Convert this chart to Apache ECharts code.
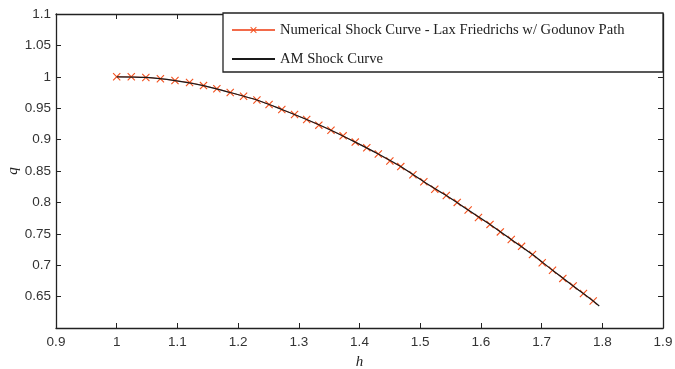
<!DOCTYPE html>
<html>
<head>
<meta charset="utf-8">
<script src="https://cdn.jsdelivr.net/npm/echarts@6/dist/echarts.min.js"></script>
<style>html,body{margin:0;padding:0;background:#fff;}#c{width:675px;height:369px;}</style>
</head>
<body>
<div id="c"></div>
<script>
const xTicks = [0.9, 1.0, 1.1, 1.2, 1.3, 1.4, 1.5, 1.6, 1.7, 1.8, 1.9];
const yTicks = [0.6, 0.65, 0.7, 0.75, 0.8, 0.85, 0.9, 0.95, 1.0, 1.05, 1.1];

const numH = [1.000, 1.024, 1.048, 1.072, 1.096, 1.120, 1.143, 1.165, 1.187, 1.209, 1.231, 1.251, 1.272, 1.293, 1.313, 1.333, 1.353, 1.373, 1.393, 1.412, 1.431, 1.450, 1.468, 1.488, 1.506, 1.524, 1.543, 1.561, 1.579, 1.596, 1.615, 1.632, 1.650, 1.667, 1.685, 1.701, 1.718, 1.735, 1.752, 1.769, 1.785];
const numQ = [1.000, 1.000, 0.999, 0.997, 0.994, 0.991, 0.986, 0.981, 0.975, 0.969, 0.963, 0.956, 0.948, 0.940, 0.932, 0.923, 0.915, 0.906, 0.896, 0.887, 0.877, 0.866, 0.857, 0.844, 0.833, 0.821, 0.811, 0.800, 0.788, 0.776, 0.765, 0.753, 0.741, 0.730, 0.717, 0.704, 0.692, 0.679, 0.667, 0.655, 0.643];

const amH = [1.000, 1.048, 1.096, 1.143, 1.187, 1.231, 1.272, 1.313, 1.353, 1.393, 1.431, 1.468, 1.506, 1.543, 1.579, 1.615, 1.650, 1.685, 1.718, 1.752, 1.785, 1.795];
const amQ = [1.000, 0.999, 0.994, 0.986, 0.975, 0.963, 0.948, 0.932, 0.915, 0.896, 0.877, 0.857, 0.833, 0.811, 0.788, 0.765, 0.741, 0.717, 0.692, 0.667, 0.643, 0.635];

const seriesNames = ['Numerical Shock Curve - Lax Friedrichs w/ Godunov Path', 'AM Shock Curve'];

const zip = (a, b) => a.map((v, i) => [v, b[i]]);
const crossPath = 'path://M0,1 L1,0 L5,4 L9,0 L10,1 L6,5 L10,9 L9,10 L5,6 L1,10 L0,9 L4,5 Z';
const axisCol = '#222';
const labelFont = {fontFamily: 'Liberation Sans', fontSize: 13.5, color: '#333'};

const chart = echarts.init(document.getElementById('c'), null, {renderer: 'canvas'});
chart.setOption({
  animation: false,
  backgroundColor: '#fff',
  grid: {left: 56, right: 12, top: 14, bottom: 41, containLabel: false, outerBoundsMode: 'none'},
  xAxis: [{
    type: 'value', min: xTicks[0], max: xTicks[xTicks.length - 1], interval: 0.1,
    position: 'bottom',
    axisLine: {show: true, lineStyle: {color: axisCol, width: 1.3}},
    axisTick: {show: true, inside: true, length: 5, lineStyle: {color: axisCol}},
    axisLabel: Object.assign({margin: 7, formatter: v => String(+v.toFixed(2))}, labelFont),
    splitLine: {show: false},
    name: 'h', nameLocation: 'middle', nameGap: 27, nameMoveOverlap: false,
    nameTextStyle: {fontFamily: 'Liberation Serif', fontStyle: 'italic', fontSize: 15, color: '#222'}
  }, {
    type: 'value', min: xTicks[0], max: xTicks[xTicks.length - 1], interval: 0.1,
    position: 'top',
    axisLine: {show: true, lineStyle: {color: axisCol, width: 1.3}},
    axisTick: {show: true, inside: true, length: 5, lineStyle: {color: axisCol}},
    axisLabel: {show: false}, splitLine: {show: false}
  }],
  yAxis: [{
    type: 'value', min: yTicks[0], max: yTicks[yTicks.length - 1], interval: 0.05,
    position: 'left',
    axisLine: {show: true, lineStyle: {color: axisCol, width: 1.3}},
    axisTick: {show: true, inside: true, length: 5, lineStyle: {color: axisCol}},
    axisLabel: Object.assign({margin: 5, showMinLabel: false, formatter: v => String(+v.toFixed(2))}, labelFont),
    splitLine: {show: false},
    name: 'q', nameLocation: 'middle', nameGap: 35, nameMoveOverlap: false,
    nameTextStyle: {fontFamily: 'Liberation Serif', fontStyle: 'italic', fontSize: 15, color: '#222'}
  }, {
    type: 'value', min: yTicks[0], max: yTicks[yTicks.length - 1], interval: 0.05,
    position: 'right',
    axisLine: {show: true, lineStyle: {color: axisCol, width: 1.3}},
    axisTick: {show: true, inside: true, length: 5, lineStyle: {color: axisCol}},
    axisLabel: {show: false}, splitLine: {show: false}
  }],
  graphic: [{
    type: 'rect', z: 50, zlevel: 0,
    shape: {x: 223, y: 13, width: 440, height: 59},
    style: {fill: '#fff', stroke: '#222', lineWidth: 1.3}
  }],
  legend: {
    z: 60,
    orient: 'vertical', left: 231, top: 22.5, padding: 0,
    itemWidth: 43, itemHeight: 8, itemGap: 14,
    textStyle: {fontFamily: 'Liberation Serif', fontSize: 14.6, color: '#222'},
    data: [{name: seriesNames[0]}, {name: seriesNames[1], itemStyle: {opacity: 0}}]
  },
  series: [{
    name: seriesNames[0], type: 'line', data: zip(numH, numQ),
    symbol: crossPath, symbolSize: 8, showAllSymbol: true,
    lineStyle: {color: '#f26a4a', width: 1},
    itemStyle: {color: '#f4511e'},
    z: 2
  }, {
    name: seriesNames[1], type: 'line', data: zip(amH, amQ),
    symbol: 'none', smooth: 0.3,
    lineStyle: {color: '#1a1a1a', width: 1.2},
    itemStyle: {color: '#1a1a1a'},
    z: 3
  }]
});
</script>
</body>
</html>
